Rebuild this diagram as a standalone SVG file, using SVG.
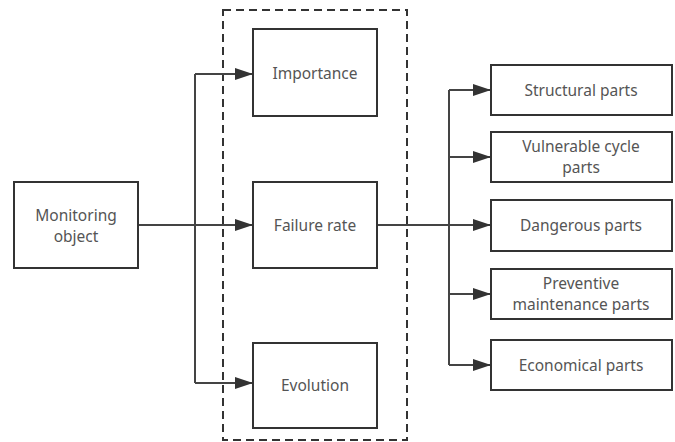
<svg xmlns="http://www.w3.org/2000/svg" width="675" height="442" viewBox="0 0 675 442">
<style>
.box{fill:#fff;stroke:#333;stroke-width:2}
.t{font-family:"Microsoft YaHei","Noto Sans","Liberation Sans",sans-serif;font-size:15.5px;fill:#555;text-anchor:middle}
.c{fill:none;stroke:#444;stroke-width:2}
</style>
<defs>
<marker id="ah" viewBox="0 0 10 10" refX="10" refY="5" markerWidth="18" markerHeight="12" markerUnits="userSpaceOnUse" orient="auto" preserveAspectRatio="none">
<path d="M0,0 L10,5 L0,10 z" fill="#333"/>
</marker>
</defs>
<rect fill="#fff" x="0" y="0" width="675" height="442"/>
<g id="group-box"><rect x="223" y="10" width="184" height="430" fill="none" stroke="#333" stroke-width="2" stroke-dasharray="8,5"/></g>
<g id="connectors">
<path class="c" d="M138,225 H253" marker-end="url(#ah)"/>
<path class="c" d="M195,74 V383"/>
<path class="c" d="M195,74 H253" marker-end="url(#ah)"/>
<path class="c" d="M195,383 H253" marker-end="url(#ah)"/>
<path class="c" d="M377,225 H491" marker-end="url(#ah)"/>
<path class="c" d="M449,90 V365"/>
<path class="c" d="M449,90 H491" marker-end="url(#ah)"/>
<path class="c" d="M449,157 H491" marker-end="url(#ah)"/>
<path class="c" d="M449,294 H491" marker-end="url(#ah)"/>
<path class="c" d="M449,365 H491" marker-end="url(#ah)"/>
</g>
<g id="monitoring"><rect class="box" x="14" y="182" width="124" height="86"/><text class="t" x="76" y="221">Monitoring</text><text class="t" x="76" y="242">object</text></g>
<g id="importance"><rect class="box" x="253" y="29" width="124" height="87"/><text class="t" x="315" y="79">Importance</text></g>
<g id="failure"><rect class="box" x="253" y="182" width="124" height="86"/><text class="t" x="315" y="231">Failure rate</text></g>
<g id="evolution"><rect class="box" x="253" y="343" width="124" height="85"/><text class="t" x="315" y="391">Evolution</text></g>
<g id="structural"><rect class="box" x="491" y="65" width="181" height="50"/><text class="t" x="581" y="96">Structural parts</text></g>
<g id="vulnerable"><rect class="box" x="491" y="132" width="181" height="50"/><text class="t" x="581" y="152">Vulnerable cycle</text><text class="t" x="581" y="173">parts</text></g>
<g id="dangerous"><rect class="box" x="491" y="200" width="181" height="51"/><text class="t" x="581" y="231">Dangerous parts</text></g>
<g id="preventive"><rect class="box" x="491" y="269" width="181" height="50"/><text class="t" x="581" y="289">Preventive</text><text class="t" x="581" y="310">maintenance parts</text></g>
<g id="economical"><rect class="box" x="491" y="340" width="181" height="50"/><text class="t" x="581" y="371">Economical parts</text></g>
</svg>
